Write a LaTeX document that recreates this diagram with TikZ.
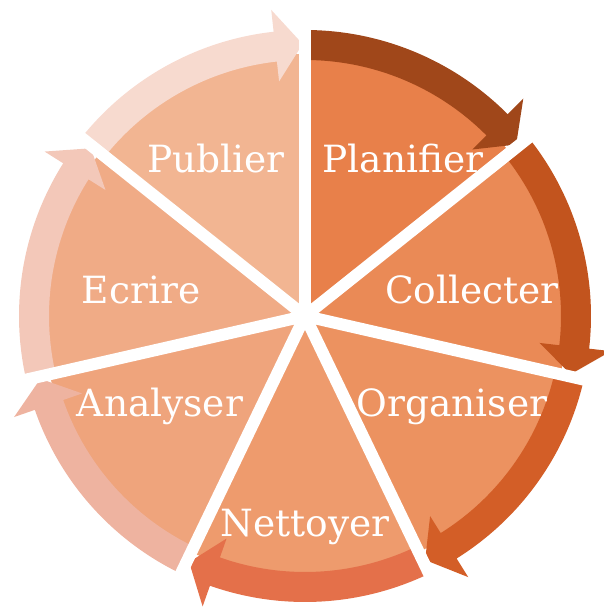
\documentclass[tikz,border=0pt]{standalone}
\usepackage{fontspec}
\setmainfont{DejaVu Serif}
\usepackage{xcolor}
\usepackage{tikz}
\usetikzlibrary{positioning}
\definecolor{planW}{HTML}{E8804A}
\definecolor{planA}{HTML}{A0471A}
\definecolor{collW}{HTML}{EA8A56}
\definecolor{collA}{HTML}{C2541E}
\definecolor{orgW}{HTML}{EC9260}
\definecolor{orgA}{HTML}{D35E27}
\definecolor{netW}{HTML}{EE9B6D}
\definecolor{netA}{HTML}{E4704A}
\definecolor{anaW}{HTML}{EFA47C}
\definecolor{anaA}{HTML}{EEB3A0}
\definecolor{ecrW}{HTML}{F0AB86}
\definecolor{ecrA}{HTML}{F3C8B9}
\definecolor{pubW}{HTML}{F2B592}
\definecolor{pubA}{HTML}{F7DACF}

\begin{document}
\begin{tikzpicture}[
  x=1pt, y=1pt,
  gapline/.style={draw=white, line width=12pt},
  lbl/.style={text=white, anchor=base, inner sep=0pt, font=\fontsize{37.5}{40}\selectfont}
]
  \useasboundingbox (0,0) rectangle (603,608);

  \begin{scope}[shift={(305,292)}]
    % Wedges and arrow bands
    \foreach \k/\wc/\ac in {0/planW/planA, 1/collW/collA, 2/orgW/orgA, 3/netW/netA,
                            4/anaW/anaA, 5/ecrW/ecrA, 6/pubW/pubA} {
      \pgfmathsetmacro{\s}{90-51.4286*\k}
      \pgfmathsetmacro{\e}{\s-51.4286}
      \pgfmathsetmacro{\b}{\e+6.3}
      \pgfmathsetmacro{\t}{\e+0.5}
      \fill[\wc] (0,0) -- (\s:262) arc[start angle=\s, end angle=\e, radius=262] -- cycle;
      \fill[\ac] (\s:286) arc[start angle=\s, end angle=\b, radius=286]
        -- (\b:308) -- (\t:272) -- (\b:236) -- (\b:256)
        arc[start angle=\b, end angle=\s, radius=256] -- cycle;
    }

    % White gaps
    \foreach \k in {0,...,6}
      \draw[gapline] (0,0) -- ({90-51.4286*\k}:330);
    \fill[white] (0,0) circle (14);
  \end{scope}

  % Labels
  \node[lbl] (plan) at (403,435) {Planifier};
  \node[lbl] (coll) at (472,304) {Collecter};
  \node[lbl] (org) at (452,191) {Organiser};
  \node[lbl] (net) at (305,71) {Nettoyer};
  \node[lbl] (ana) at (160,191) {Analyser};
  \node[lbl] (ecr) at (141,304) {Ecrire};
  \node[lbl] (pub) at (216,435) {Publier};
\end{tikzpicture}
\end{document}
